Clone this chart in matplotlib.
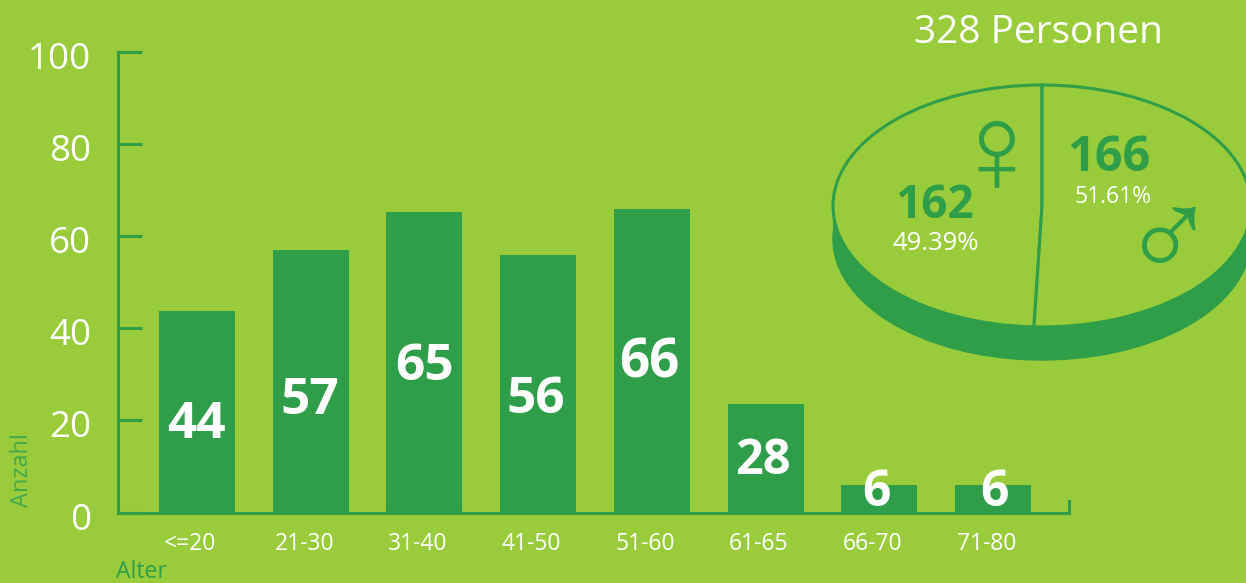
import matplotlib
matplotlib.use("Agg")
import matplotlib.pyplot as plt
from matplotlib.patches import Rectangle
from matplotlib.transforms import ScaledTranslation

# data
age_groups = ["<=20", "21-30", "31-40", "41-50", "51-60", "61-65", "66-70", "71-80"]
bar_heights = [43.7, 57, 65.2, 55.9, 66, 23.5, 5.9, 5.9]
bar_labels = ["44", "57", "65", "56", "66", "28", "6", "6"]
gender_counts = [162, 166]
gender_count_labels = ["162", "166"]
gender_share_labels = ["49.39%", "51.61%"]
y_ticks = [0, 20, 40, 60, 80, 100]

# layout and style
W, H = 1246, 583
BG, DARK, WHITE = "#99CC3A", "#2F9E49", "#FFFFFF"
FONT = "Open Sans"
plt.rcParams["font.family"] = FONT
label_px_x = [196, 310, 425, 536, 649, 763, 877, 995]
label_px_y = [425, 401, 367, 400, 363, 461, 493, 493]
label_sizes = [37, 37, 37, 37, 38, 35, 36, 36]


def fx(px):
    return px / W


def fy(py):
    return 1 - py / H


fig = plt.figure(figsize=(W / 100, H / 100), dpi=100, facecolor=BG)

# bar chart
ax = fig.add_axes([fx(117.5), fy(512.5), (1069 - 117.5) / W, (512.5 - 52) / H], facecolor="none")
x = list(range(len(age_groups)))
ax.bar(x, bar_heights, width=76 / 113.7, color=DARK, linewidth=0, zorder=1)
ax.set_ylim(0, 100)
ax.set_xlim((117.5 - 197) / 113.7, (1069 - 197) / 113.7)
ax.spines["top"].set_visible(False)
for s in ("left", "bottom", "right"):
    ax.spines[s].set_color(DARK)
    ax.spines[s].set_linewidth(2.2)
ax.spines["right"].set_bounds(0, 2.6)
ax.set_yticks(y_ticks)
ax.tick_params(axis="y", direction="in", length=17, width=2.2, color=DARK,
               labelcolor=WHITE, labelsize=26.5, pad=19)
ax.set_xticks(x, age_groups)
ax.tick_params(axis="x", length=0, labelcolor=WHITE, labelsize=16.5, pad=14)
for lab in ax.get_yticklabels():
    lab.set_transform(lab.get_transform() + ScaledTranslation(0, -3.5 / 100, fig.dpi_scale_trans))
for lab in ax.get_xticklabels():
    lab.set_transform(lab.get_transform() + ScaledTranslation(-6.5 / 100, 0, fig.dpi_scale_trans))

for t, px, py, sz in zip(bar_labels, label_px_x, label_px_y, label_sizes):
    fig.text(fx(px), fy(py), t, color=WHITE, fontsize=sz, fontweight="bold",
             ha="center", va="center")

fig.text(fx(116), fy(572), "Alter", color=DARK, fontsize=16.5, ha="left", va="center")
fig.text(fx(22), fy(470), "Anzahl", color="#45A84B", fontsize=17, rotation=90,
         ha="center", va="center")

# pie
CX, CY, RX, RY, DEPTH = 1042, 206, 209, 121, 33
pie_ax = fig.add_axes([fx(CX - RX), fy(CY + RY + DEPTH), 2 * RX / W, (2 * RY + DEPTH) / H], facecolor="none")
d = DEPTH / RY
pie_ax.add_patch(Rectangle((-1, -d), 2, d, color=DARK, linewidth=0, zorder=0))
pie_ax.pie(gender_counts, colors=[DARK, DARK], startangle=90, radius=1, center=(0, -d),
           wedgeprops=dict(linewidth=1, edgecolor=DARK))
pie_ax.pie(gender_counts, colors=[BG, BG], startangle=90, radius=1,
           wedgeprops=dict(edgecolor=DARK, linewidth=2.2))
pie_ax.set_aspect("auto")
pie_ax.set_xlim(-1, 1)
pie_ax.set_ylim(-1 - d, 1)
pie_ax.axis("off")
for p in pie_ax.patches:
    p.set_clip_on(False)

fig.text(fx(1038), fy(33), "328 Personen", color=WHITE, fontsize=28, ha="center", va="center")
fig.text(fx(935), fy(205), gender_count_labels[0], color=DARK, fontsize=33, fontweight="bold", ha="center", va="center")
fig.text(fx(1109), fy(158), gender_count_labels[1], color=DARK, fontsize=35, fontweight="bold", ha="center", va="center")
fig.text(fx(936), fy(244), gender_share_labels[0], color=WHITE, fontsize=18.5, ha="center", va="center")
fig.text(fx(1113), fy(197), gender_share_labels[1], color=WHITE, fontsize=16.5, ha="center", va="center")
fig.text(fx(996.5), fy(159), "\u2640", color=DARK, fontsize=92, family="Liberation Sans", ha="center", va="center")
fig.text(fx(1169), fy(246), "\u2642", color=DARK, fontsize=92, family="Liberation Sans", ha="center", va="center")

fig.savefig("out.png", dpi=100, facecolor=BG)
